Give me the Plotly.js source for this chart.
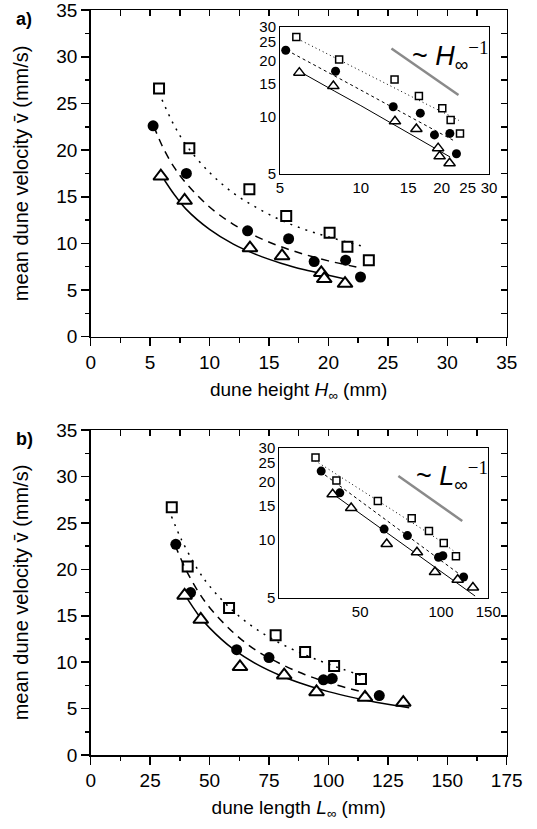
<!DOCTYPE html>
<html><head><meta charset="utf-8">
<script src="https://cdn.plot.ly/plotly-3.0.1.min.js"></script>
<style>html,body{margin:0;padding:0;background:#fff}#c{width:537px;height:829px}</style>
</head><body><div id="c"></div>
<script>
// ---- panel a: velocity vs dune height ----
const aSqX  = [5.75, 8.3, 13.35, 16.45, 20.1, 21.6, 23.4];
const aSqY  = [26.6, 20.2, 15.8, 12.95, 11.15, 9.65, 8.2];
const aCirX = [5.25, 8.05, 13.2, 16.65, 18.8, 21.45, 22.7];
const aCirY = [22.6, 17.5, 11.35, 10.5, 8.05, 8.2, 6.4];
const aTriX = [5.9, 7.9, 13.4, 16.1, 19.4, 19.65, 21.4];
const aTriY = [17.2, 14.6, 9.5, 8.65, 6.85, 6.2, 5.7];
const aFitSqX  = [6.0, 7, 8, 10, 12, 14, 16, 18, 20, 23.2];
const aFitSqY  = [25.4, 22.7, 20.6, 17.6, 15.4, 13.8, 12.5, 11.5, 10.7, 9.6];
const aFitCirX = [5.3, 6, 7, 8, 10, 12, 14, 16, 18, 20, 22.5];
const aFitCirY = [22.6, 20.5, 18.2, 16.5, 13.9, 12.05, 10.7, 9.65, 8.82, 8.13, 7.43];
const aFitTriX = [6.2, 7, 8, 10, 12, 14, 16, 18, 20, 21.5];
const aFitTriY = [16.8, 15.3, 13.7, 11.5, 9.92, 8.77, 7.88, 7.17, 6.59, 6.15];
const aRefX = [13.0, 23.1];
const aRefY = [23.1, 13.1];
// ---- panel b: velocity vs dune length ----
const bSqX  = [34.1, 40.8, 58.2, 77.8, 90.2, 102.4, 113.7];
const bSqY  = [26.7, 20.3, 15.85, 12.9, 11.1, 9.6, 8.2];
const bCirX = [35.8, 42.0, 61.4, 75.0, 97.9, 101.6, 121.4];
const bCirY = [22.7, 17.5, 11.35, 10.5, 8.1, 8.25, 6.4];
const bTriX = [39.5, 46.3, 62.8, 81.4, 95.0, 115.4, 131.5];
const bTriY = [17.2, 14.6, 9.5, 8.6, 6.8, 6.2, 5.65];
const bFitSqX  = [34, 38, 45, 50, 60, 70, 80, 90, 100, 115];
const bFitSqY  = [25.7, 23.3, 20.0, 18.2, 15.5, 13.5, 12.0, 10.8, 9.8, 8.45];
const bFitCirX = [35.5, 40, 45, 50, 60, 70, 80, 90, 100, 116];
const bFitCirY = [22.6, 20.0, 17.7, 15.9, 13.2, 11.2, 9.8, 8.68, 7.79, 6.69];
const bFitTriX = [39.5, 45, 50, 60, 70, 80, 90, 100, 110, 120, 134];
const bFitTriY = [17.3, 15.2, 13.7, 11.4, 9.76, 8.54, 7.59, 6.83, 6.21, 5.69, 5.1];
const bRefX = [69.4, 120];
const bRefY = [21.4, 12.5];
// tick labels
const insetTicks = [5, 10, 15, 20, 25, 30];
const insetBXTicks = [50, 100, 150];

const SANS = 'Liberation Sans, Arial, sans-serif';
function fit(x, y, xa, ya, dash, w, shape) {
  return {x, y, xaxis: xa, yaxis: ya, mode: 'lines', type: 'scatter', hoverinfo: 'skip',
    line: {color: '#000', width: w, dash: dash, shape: shape}};
}
function pts(x, y, xa, ya, sym, size, lw) {
  const filled = sym === 'circle';
  return {x, y, xaxis: xa, yaxis: ya, mode: 'markers', type: 'scatter', cliponaxis: false,
    marker: {symbol: sym, size: size, color: filled ? '#000' : '#fff',
      line: {color: '#000', width: filled ? 0 : lw}}};
}
function ref(x, y, xa, ya) {
  return {x, y, xaxis: xa, yaxis: ya, mode: 'lines', type: 'scatter',
    line: {color: '#8a8a8a', width: 2.5}};
}
const traces = [];
// dotted fit -> twin subplot with top/right frame axes (inward ticks)
// dashed fit -> twin subplot carrying the minor ticks of bottom/left axes
function panel(d, xm, ym, xt, yt, xn, yn, xi, yi) {
  traces.push(fit(d.fsx, d.fsy, xt, yt, '2px,6px', 1.5, 'spline'));
  traces.push(fit(d.fcx, d.fcy, xn, yn, '8px,6px', 1.5, 'spline'));
  traces.push(fit(d.ftx, d.fty, xm, ym, 'solid', 1.5, 'spline'));
  traces.push(pts(d.sx, d.sy, xm, ym, 'square', 10, 2));
  traces.push(pts(d.cx, d.cy, xm, ym, 'circle', 11, 0));
  traces.push(pts(d.tx, d.ty, xm, ym, 'triangle-up', 13, 2));
  traces.push(ref(d.rx, d.ry, xi, yi));
  traces.push(fit(d.fsx, d.fsy, xi, yi, '1px,3px', 1, 'linear'));
  traces.push(fit(d.fcx, d.fcy, xi, yi, '3px,3px', 1, 'linear'));
  traces.push(fit(d.ftx, d.fty, xi, yi, 'solid', 1, 'linear'));
  traces.push(pts(d.sx, d.sy, xi, yi, 'square', 7, 1.5));
  traces.push(pts(d.cx, d.cy, xi, yi, 'circle', 9, 0));
  traces.push(pts(d.tx, d.ty, xi, yi, 'triangle-up', 10, 1.5));
}
panel({sx: aSqX, sy: aSqY, cx: aCirX, cy: aCirY, tx: aTriX, ty: aTriY,
  fsx: aFitSqX, fsy: aFitSqY, fcx: aFitCirX, fcy: aFitCirY, ftx: aFitTriX, fty: aFitTriY,
  rx: aRefX, ry: aRefY}, 'x', 'y', 'x5', 'y5', 'x7', 'y7', 'x2', 'y2');
panel({sx: bSqX, sy: bSqY, cx: bCirX, cy: bCirY, tx: bTriX, ty: bTriY,
  fsx: bFitSqX, fsy: bFitSqY, fcx: bFitCirX, fcy: bFitCirY, ftx: bFitTriX, fty: bFitTriY,
  rx: bRefX, ry: bRefY}, 'x3', 'y3', 'x6', 'y6', 'x8', 'y8', 'x4', 'y4');

const H = 829, W = 537;
const px = v => v / W, py = v => (H - v) / H;
const tickFont = {family: SANS, size: 19, color: '#000'};
function mainX(dom, anchor, rng, dt, title) {
  return {domain: dom, anchor: anchor, range: rng, dtick: dt, tick0: 0, showgrid: false, zeroline: false,
    showline: true, mirror: true, linewidth: 1.5, linecolor: '#000', ticks: 'outside', ticklen: 8, tickwidth: 1.5,
    tickcolor: '#000', tickfont: tickFont,
    title: {text: title, font: {family: SANS, size: 19, color: '#000'}, standoff: 10}};
}
function mainY(dom, anchor, title) {
  return {domain: dom, anchor: anchor, range: [0, 35.02], dtick: 5, tick0: 0, showgrid: false, zeroline: false,
    showline: true, mirror: true, linewidth: 1.5, linecolor: '#000', ticks: 'outside', ticklen: 8, tickwidth: 1.5,
    tickcolor: '#000', tickfont: tickFont, ticklabeloverflow: 'allow',
    title: {text: title, font: {family: SANS, size: 20, color: '#000'}, standoff: 22}};
}
function twin(anchor, dom, rng, dt, side, inward, line) {
  return {anchor: anchor, side: side, domain: dom, range: rng, dtick: dt, tick0: 0,
    showgrid: false, zeroline: false, showline: line, linewidth: 1.5, linecolor: '#000',
    ticks: inward ? 'inside' : 'outside', ticklen: inward ? 6 : 5, tickwidth: 1.5, tickcolor: '#000',
    showticklabels: false};
}
function insetAx(dom, anchor, rng, tv) {
  return {domain: dom, anchor: anchor, type: 'log', range: rng, tickvals: tv, ticktext: tv.map(String),
    showgrid: false, zeroline: false, showline: true, mirror: true, linewidth: 1, linecolor: '#000',
    ticks: '', tickfont: {family: SANS, size: 15, color: '#000'}};
}
const xdom = [px(90.7), px(506.7)];
const yaDom = [py(336.7), py(10)];
const ybDom = [py(755), py(430)];
const lg = Math.log10;
const ytitle = 'mean dune velocity v\u0304 (mm/s)';
const layout = {
  width: W, height: H, margin: {l: 0, r: 0, t: 0, b: 0}, showlegend: false,
  paper_bgcolor: '#fff', plot_bgcolor: 'rgba(0,0,0,0)',
  xaxis: mainX(xdom, 'y', [0, 35], 5, 'dune height <i>H</i><sub>\u221E</sub> (mm)'),
  yaxis: mainY(yaDom, 'x', ytitle),
  xaxis3: mainX(xdom, 'y3', [0, 175], 25, 'dune length <i>L</i><sub>\u221E</sub> (mm)'),
  yaxis3: mainY(ybDom, 'x3', ytitle),
  xaxis5: twin('y5', xdom, [0, 35], 2.5, 'top', true, true),
  yaxis5: twin('x5', yaDom, [0, 35.02], 2.5, 'right', true, true),
  xaxis6: twin('y6', xdom, [0, 175], 12.5, 'top', true, true),
  yaxis6: twin('x6', ybDom, [0, 35.02], 2.5, 'right', true, true),
  xaxis7: twin('y7', xdom, [0, 35], 2.5, 'bottom', false, false),
  yaxis7: twin('x7', yaDom, [0, 35.02], 2.5, 'left', false, false),
  xaxis8: twin('y8', xdom, [0, 175], 12.5, 'bottom', false, false),
  yaxis8: twin('x8', ybDom, [0, 35.02], 2.5, 'left', false, false),
  xaxis2: insetAx([px(280), px(489)], 'y2', [lg(5) - 1e-4, lg(30) + 1e-4], insetTicks),
  yaxis2: insetAx([py(174), py(27)], 'x2', [lg(5) - 1e-4, lg(30) + 1e-4], insetTicks),
  xaxis4: insetAx([px(279.3), px(488.3)], 'y4', [lg(25), lg(150) + 1e-4], insetBXTicks),
  yaxis4: insetAx([py(597.7), py(447.7)], 'x4', [lg(5) - 1e-4, lg(30) + 1e-4], insetTicks),
  annotations: [
    {xref: 'paper', yref: 'paper', x: px(14), y: py(19), xanchor: 'left', yanchor: 'middle', showarrow: false,
      text: '<b>a)</b>', font: {family: SANS, size: 18, color: '#000'}},
    {xref: 'paper', yref: 'paper', x: px(14), y: py(439), xanchor: 'left', yanchor: 'middle', showarrow: false,
      text: '<b>b)</b>', font: {family: SANS, size: 18, color: '#000'}},
    {xref: 'paper', yref: 'paper', x: px(410), y: py(56), xanchor: 'left', yanchor: 'middle', showarrow: false,
      text: '~ <i>H</i><sub>\u221E</sub><sup><span style="font-family:Liberation Serif">\u22121</span></sup>',
      font: {family: SANS, size: 27, color: '#000'}},
    {xref: 'paper', yref: 'paper', x: px(414), y: py(476), xanchor: 'left', yanchor: 'middle', showarrow: false,
      text: '~ <i>L</i><sub>\u221E</sub><sup><span style="font-family:Liberation Serif">\u22121</span></sup>',
      font: {family: SANS, size: 27, color: '#000'}}
  ]
};
Plotly.newPlot('c', traces, layout, {staticPlot: true, displayModeBar: false});
</script></body></html>
